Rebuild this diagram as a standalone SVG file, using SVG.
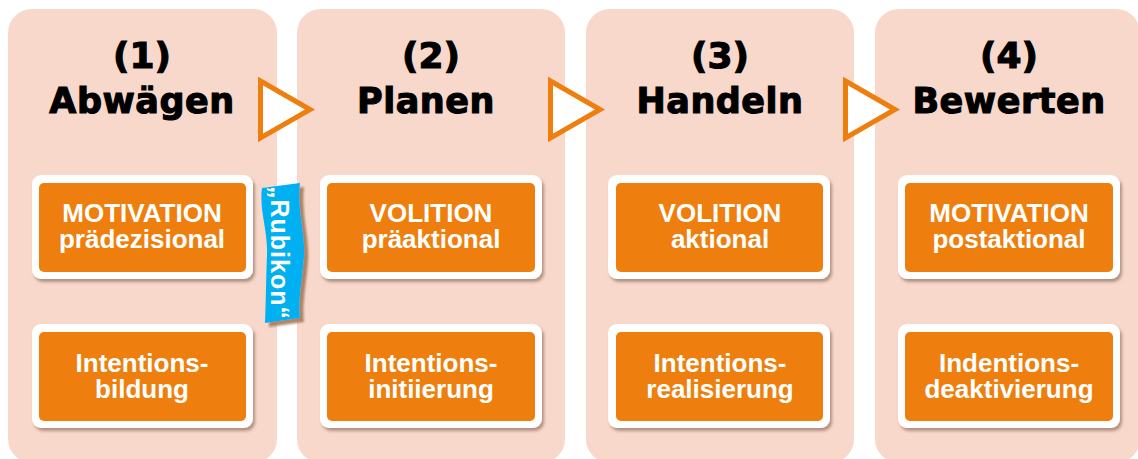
<svg xmlns="http://www.w3.org/2000/svg" width="1138" height="459" viewBox="0 0 1138 459">
<defs>
<filter id="sh" x="-10%" y="-10%" width="125%" height="130%">
<feDropShadow dx="2" dy="3" stdDeviation="1.8" flood-color="#7a5444" flood-opacity="0.55"/>
</filter>
<filter id="sh2" x="-20%" y="-10%" width="150%" height="130%">
<feDropShadow dx="4" dy="4" stdDeviation="0.8" flood-color="#a57a5c" flood-opacity="0.9"/>
</filter>
</defs>
<style>
.panel{fill:#F7D8CB}
.frame{fill:#fff;filter:url(#sh)}
.box{fill:#EE7F0E}
.num,.title{font-family:"DejaVu Sans",sans-serif;font-weight:bold;fill:#000;stroke:#000;stroke-width:1.1;text-anchor:middle}
.num{font-size:36px}
.title{font-size:35px;letter-spacing:0.5px}
.lbl{font-family:"Liberation Sans",Arial,sans-serif;font-weight:bold;font-size:26px;fill:#fff;text-anchor:middle}
.arrow{fill:#fff;stroke:#EE7F0E;stroke-width:5;stroke-linejoin:miter}
</style>
<rect width="1138" height="459" fill="#fff"/>

<g id="phase1">
<rect class="panel" x="8" y="9" width="269" height="454" rx="24"/>
<text class="num" x="142" y="68">(1)</text>
<text class="title" x="142" y="113">Abwägen</text>
<g id="p1-box1">
<rect class="frame" x="32" y="175" width="221" height="104" rx="9"/>
<rect class="box" x="39" y="183" width="207" height="89" rx="5"/>
<text class="lbl" x="142" y="222">MOTIVATION</text>
<text class="lbl" x="142" y="248">prädezisional</text>
</g>
<g id="p1-box2">
<rect class="frame" x="32" y="324" width="221" height="104" rx="9"/>
<rect class="box" x="39" y="332" width="207" height="89" rx="5"/>
<text class="lbl" x="142" y="372">Intentions-</text>
<text class="lbl" x="142" y="398">bildung</text>
</g>
</g>

<g id="phase2">
<rect class="panel" x="297" y="9" width="268" height="454" rx="24"/>
<text class="num" x="431" y="68">(2)</text>
<text class="title" x="426" y="113">Planen</text>
<g id="p2-box1">
<rect class="frame" x="320" y="175" width="222" height="104" rx="9"/>
<rect class="box" x="327" y="183" width="208" height="89" rx="5"/>
<text class="lbl" x="431" y="222">VOLITION</text>
<text class="lbl" x="431" y="248">präaktional</text>
</g>
<g id="p2-box2">
<rect class="frame" x="320" y="324" width="222" height="104" rx="9"/>
<rect class="box" x="327" y="332" width="208" height="89" rx="5"/>
<text class="lbl" x="431" y="372">Intentions-</text>
<text class="lbl" x="431" y="398">initiierung</text>
</g>
</g>

<g id="phase3">
<rect class="panel" x="586" y="9" width="268" height="454" rx="24"/>
<text class="num" x="720" y="68">(3)</text>
<text class="title" x="720" y="113">Handeln</text>
<g id="p3-box1">
<rect class="frame" x="608" y="175" width="222" height="104" rx="9"/>
<rect class="box" x="616" y="183" width="207" height="89" rx="5"/>
<text class="lbl" x="720" y="222">VOLITION</text>
<text class="lbl" x="720" y="248">aktional</text>
</g>
<g id="p3-box2">
<rect class="frame" x="608" y="324" width="222" height="104" rx="9"/>
<rect class="box" x="616" y="332" width="207" height="89" rx="5"/>
<text class="lbl" x="720" y="372">Intentions-</text>
<text class="lbl" x="720" y="398">realisierung</text>
</g>
</g>

<g id="phase4">
<rect class="panel" x="875" y="9" width="265" height="454" rx="24"/>
<text class="num" x="1009" y="68">(4)</text>
<text class="title" x="1009" y="113">Bewerten</text>
<g id="p4-box1">
<rect class="frame" x="898" y="175" width="222" height="104" rx="9"/>
<rect class="box" x="905" y="183" width="208" height="89" rx="5"/>
<text class="lbl" x="1009" y="222">MOTIVATION</text>
<text class="lbl" x="1009" y="248">postaktional</text>
</g>
<g id="p4-box2">
<rect class="frame" x="898" y="324" width="222" height="104" rx="9"/>
<rect class="box" x="905" y="332" width="208" height="89" rx="5"/>
<text class="lbl" x="1009" y="372">Indentions-</text>
<text class="lbl" x="1009" y="398">deaktivierung</text>
</g>
</g>

<g id="connectors">
<polygon class="arrow" points="260.5,81 310,109.5 260.5,138"/>
<polygon class="arrow" points="550.5,81 600,109.5 550.5,138"/>
<polygon class="arrow" points="845.5,81 895,109.5 845.5,138"/>
</g>

<g id="rubikon">
<path d="M262,188 L300,183 C297,210 306,235 304,258 C302,282 298,300 300,318 L265,323 C266,300 266,280 267,255 C268,230 259,210 262,188 Z" fill="#00B0F0" filter="url(#sh2)"/>
<text transform="translate(271,253) rotate(90)" x="0" y="0" text-anchor="middle" font-family="Liberation Sans,Arial,sans-serif" font-weight="bold" font-size="25" letter-spacing="1" fill="#fff">„Rubikon“</text>
</g>
</svg>
